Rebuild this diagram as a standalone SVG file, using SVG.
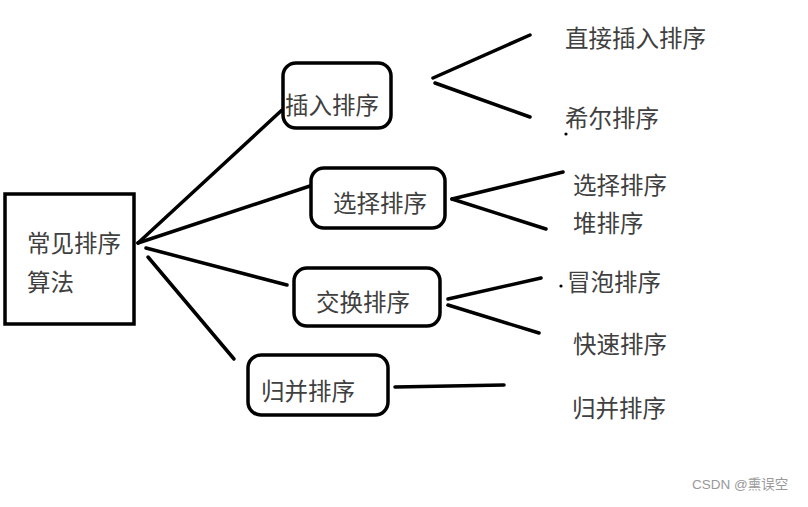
<svg xmlns="http://www.w3.org/2000/svg" width="808" height="507" viewBox="0 0 808 507">
<style>
.box{fill:#fff;stroke:#000;stroke-width:3.5}
.ln{stroke:#000;stroke-width:3.5;stroke-linecap:round;fill:none}
.t{font-family:"Noto Sans CJK SC","Noto Sans",sans-serif;font-size:23.5px;fill:#404040;dominant-baseline:central}
.wm{font-family:"Liberation Sans","Noto Sans CJK SC",sans-serif;font-size:13.5px;fill:#999;dominant-baseline:central}
</style>
<rect width="808" height="507" fill="#fff"/>
<g id="connectors">
<line class="ln" x1="138" y1="243" x2="282" y2="110"/>
<line class="ln" x1="138" y1="243" x2="310" y2="186"/>
<line class="ln" x1="146" y1="248" x2="287" y2="285"/>
<line class="ln" x1="148" y1="257" x2="234" y2="359"/>
<line class="ln" x1="433" y1="78" x2="530" y2="35"/>
<line class="ln" x1="435" y1="83" x2="530" y2="117"/>
<line class="ln" x1="452" y1="199" x2="563" y2="172"/>
<line class="ln" x1="452" y1="199" x2="546" y2="229"/>
<line class="ln" x1="448" y1="299" x2="541" y2="278"/>
<line class="ln" x1="448" y1="305" x2="539" y2="333"/>
<line class="ln" x1="395" y1="387" x2="504" y2="385"/>
</g>
<g id="main">
<rect class="box" x="5" y="194" width="129" height="130"/>
<text class="t" x="27" y="241.5">常见排序</text>
<text class="t" x="27" y="280.5">算法</text>
</g>
<g id="insert">
<rect class="box" x="283" y="63" width="108" height="65" rx="13"/>
<text class="t" x="285" y="103.5">插入排序</text>
</g>
<g id="select">
<rect class="box" x="311" y="168" width="134" height="60" rx="13"/>
<text class="t" x="333" y="201.5">选择排序</text>
</g>
<g id="swap">
<rect class="box" x="294" y="268" width="146" height="58" rx="13"/>
<text class="t" x="316" y="300.5">交换排序</text>
</g>
<g id="merge">
<rect class="box" x="248" y="355" width="140" height="60" rx="13"/>
<text class="t" x="261" y="389.5">归并排序</text>
</g>
<g id="leaf-direct"><text class="t" x="565" y="36.5">直接插入排序</text></g>
<g id="leaf-shell"><text class="t" x="565" y="116.5">希尔排序</text><circle cx="566" cy="134" r="1.6" fill="#000"/></g>
<g id="leaf-selection"><text class="t" x="573" y="183.5">选择排序</text></g>
<g id="leaf-heap"><text class="t" x="573" y="221.5">堆排序</text></g>
<g id="leaf-bubble"><circle cx="561" cy="286" r="1.6" fill="#000"/><text class="t" x="567" y="280.5">冒泡排序</text></g>
<g id="leaf-quick"><text class="t" x="573" y="342.5">快速排序</text></g>
<g id="leaf-merge"><text class="t" x="572" y="406.5">归并排序</text></g>
<text class="wm" x="692" y="484">CSDN @熏误空</text>
</svg>
